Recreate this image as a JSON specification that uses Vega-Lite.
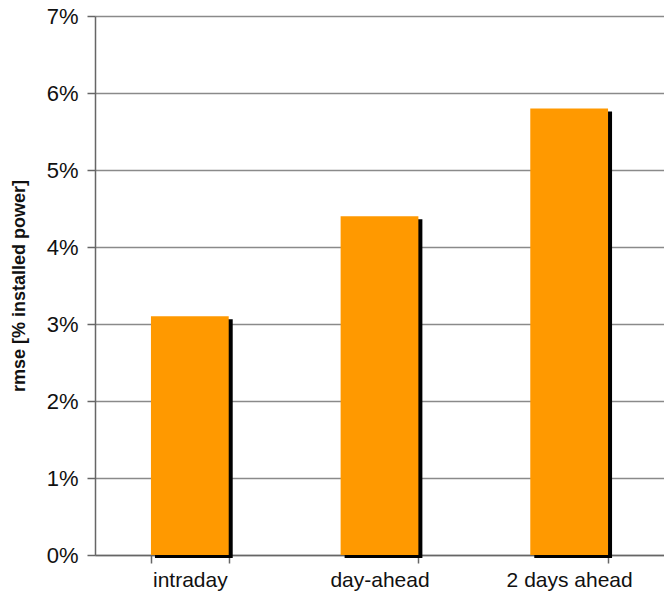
{
  "$schema": "https://vega.github.io/schema/vega-lite/v6.json",
  "autosize": "none",
  "width": 569,
  "height": 539,
  "padding": {"left": 95, "top": 16, "right": 0, "bottom": 38},
  "background": "white",
  "config": {"view": {"stroke": null}, "font": "Liberation Sans"},
  "data": {"values": [
    {"horizon": "intraday", "rmse": 0.031},
    {"horizon": "day-ahead", "rmse": 0.044},
    {"horizon": "2 days ahead", "rmse": 0.058}
  ]},
  "encoding": {
    "x": {"field": "horizon", "type": "nominal", "sort": null,
      "scale": {"paddingInner": 0.59, "paddingOuter": 0.295},
      "axis": {"title": null, "labelAngle": 0, "labelFontSize": 21, "labelColor": "#111", "labelPadding": 6, "labelOverlap": false,
        "tickBand": "extent", "ticks": true, "tickSize": 8, "tickColor": "#666", "domainColor": "#666", "domainWidth": 1.5, "tickWidth": 1.5}},
    "y": {"field": "rmse", "type": "quantitative",
      "scale": {"domain": [0, 0.07], "nice": false},
      "axis": {"title": "rmse [% installed power]", "titleFontSize": 18, "titleFontWeight": "bold", "titleColor": "#111", "titlePadding": 18,
        "format": ".0%", "values": [0,0.01,0.02,0.03,0.04,0.05,0.06,0.07], "labelOverlap": false,
        "labelFontSize": 22, "labelColor": "#111", "labelPadding": 9, "tickSize": 8, "tickColor": "#666", "tickWidth": 1.5,
        "domainColor": "#666", "domainWidth": 1.5, "grid": true, "gridColor": "#8a8a8a", "gridWidth": 1.5}}
  },
  "layer": [
    {"mark": {"type": "bar", "color": "black", "xOffset": 4, "yOffset": 3, "y2Offset": 0}},
    {"mark": {"type": "bar", "color": "#FF9900"}}
  ]
}
